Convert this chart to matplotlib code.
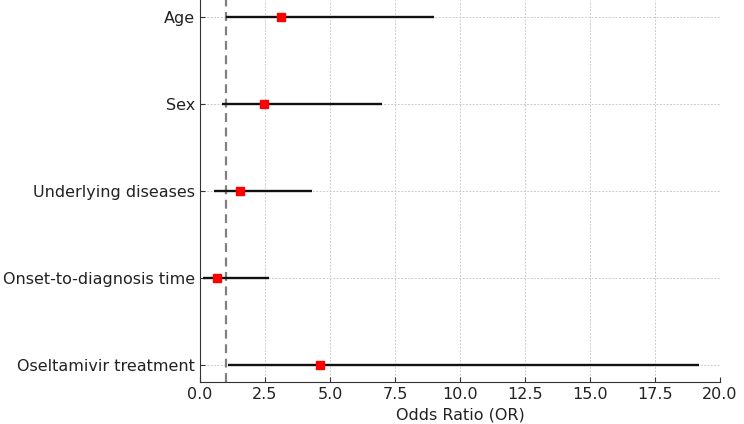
import numpy as np
import matplotlib.pyplot as plt

# Facteurs et odds ratios
factors = ['Age', 'Sex', 'Underlying diseases', 'Onset-to-diagnosis time', 'Oseltamivir treatment']
odds_ratio = [3.1, 2.45, 1.55, 0.67, 4.6]
ci_low = [1.0, 0.83, 0.54, 0.1, 1.09]
ci_high = [9.0, 7.0, 4.3, 2.67, 19.2]

fig = plt.figure(figsize=(7.44, 4.24), dpi=100)
ax = fig.add_axes([0.2688, 0.099, 0.6989, 0.901])

ypos = np.arange(len(factors))
ax.hlines(ypos, ci_low, ci_high, color='#111111', linewidth=1.7, zorder=3)
ax.plot(odds_ratio, ypos, 's', color='red', markersize=5.5, zorder=4)
ax.axvline(1, color='grey', linestyle=(0, (4, 2.5)), linewidth=1.6, zorder=2)

ax.set_yticks(ypos)
ax.set_yticklabels(factors, fontsize=11.5, color='#222222')
ax.invert_yaxis()
ax.set_xlim(0, 20)
ax.set_xticks(np.arange(0, 20.1, 2.5))
ax.tick_params(axis='x', labelsize=11.5, labelcolor='#222222')
ax.tick_params(direction='in', color='#333333')
ax.set_xlabel('Odds Ratio (OR)', fontsize=11.5, color='#222222')

ax.grid(True, linestyle=(0, (2, 1.5)), color='#cccccc', linewidth=0.7)
ax.set_axisbelow(True)
for s in ['top', 'right']:
    ax.spines[s].set_visible(False)
for s in ['left', 'bottom']:
    ax.spines[s].set_color('#333333')

plt.savefig('out.png', dpi=100)
